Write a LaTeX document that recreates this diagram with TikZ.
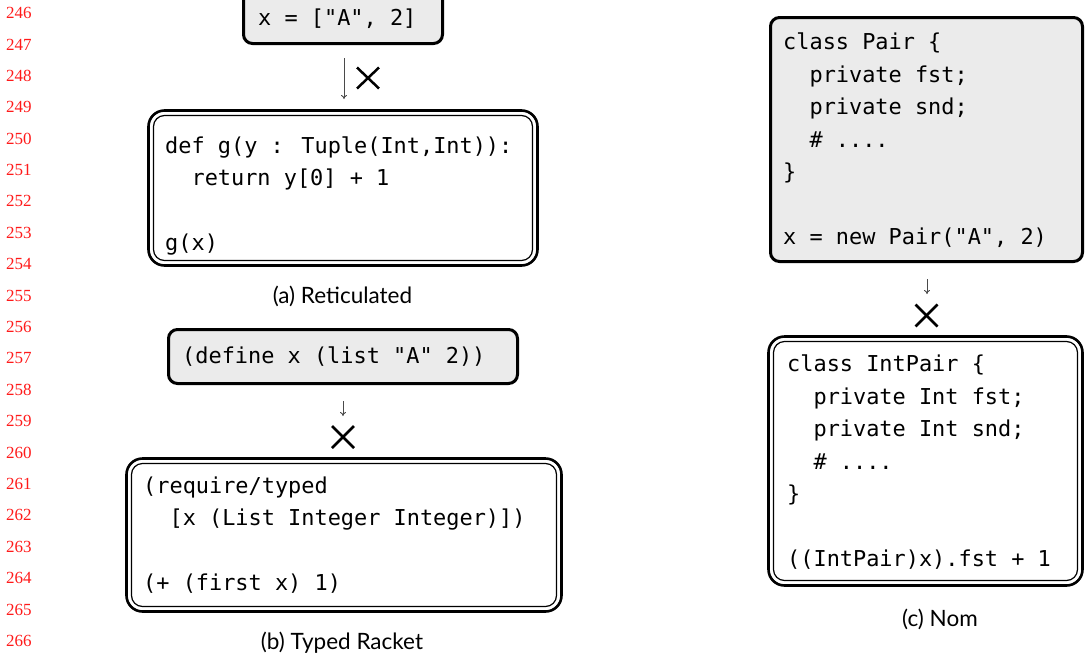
\documentclass[tikz,border=0pt]{standalone}
\usepackage{fontspec}
\setmainfont{Liberation Serif}
\newfontfamily\codefont{DejaVu Sans Mono}
\newfontfamily\captfont{Lato}
\usetikzlibrary{arrows.meta}
\definecolor{boxgray}{HTML}{EBEBEB}
\definecolor{arrgray}{HTML}{4A4A4A}
\definecolor{linered}{HTML}{FF1A1A}
\tikzset{
  graybox/.style={draw=black, line width=3pt, fill=boxgray, rounded corners=9pt, inner sep=0pt, outer sep=0pt},
  dblbox/.style={draw=black, line width=2.6pt, rounded corners=16pt, inner sep=0pt, outer sep=0pt},
  innerline/.style={draw=black, line width=1.2pt, rounded corners=11pt},
  code/.style={anchor=base west, inner sep=0pt, font=\codefont\fontsize{21.9}{32.5}\selectfont},
  capt/.style={inner sep=0pt, font=\captfont\fontsize{22.5}{26}\selectfont},
  lineno/.style={anchor=west, inner sep=0pt, text=linered, font=\fontsize{17}{19}\selectfont},
  arr/.style={draw=arrgray, line width=0.9pt, -{To[length=4pt,width=6pt]}},
  cross/.style={draw=black, line width=2.5pt},
}
\begin{document}
\begin{tikzpicture}[x=1pt,y=-1pt]
\useasboundingbox (0,0) rectangle (1085,662);

% line numbers
\foreach \n [count=\i from 0] in {246,...,266} {
  \node[lineno] (ln\n) at (6, 13+31.4*\i) {\n};
}

% ---------- (a) Reticulated ----------
\node[graybox, minimum width=199pt, minimum height=68.5pt] (a1) at (343, 9.25) {};
\node[code] (a1code) at (258, 25) {\vtop{\hbox{x = ["A", 2]}}};

\coordinate (afrom) at (344, 58);
\coordinate (ato) at (344, 99);
\draw[arr] (afrom) -- (ato);
\coordinate (ax) at (368, 78);
\draw[cross] ([shift={(-11,-10.5)}]ax) -- ([shift={(11,10.5)}]ax);
\draw[cross] ([shift={(-11,10.5)}]ax) -- ([shift={(11,-10.5)}]ax);

\node[dblbox, minimum width=389pt, minimum height=155pt] (a2) at (343, 188) {};
\draw[innerline] ([shift={(5,5)}]a2.north west) rectangle ([shift={(-5,-5)}]a2.south east);
\node[code] (a2code) at (165, 153) {\vtop{%
  \hbox{def g(y : Tuple(Int,Int)):}
  \hbox{\ \ return y[0] + 1}
  \hbox{}
  \hbox{g(x)}}};

\node[capt] (acap) at (342.5, 296) {(a) Reticulated};

% ---------- (b) Typed Racket ----------
\node[graybox, minimum width=349pt, minimum height=54pt] (b1) at (343, 356.5) {};
\node[code] (b1code) at (182, 363) {\vtop{\hbox{(define x (list "A" 2))}}};

\coordinate (bfrom) at (343, 401);
\coordinate (bto) at (343, 416);
\draw[arr] (bfrom) -- (bto);
\coordinate (bx) at (343, 437);
\draw[cross] ([shift={(-11,-11)}]bx) -- ([shift={(11,11)}]bx);
\draw[cross] ([shift={(-11,11)}]bx) -- ([shift={(11,-11)}]bx);

\node[dblbox, minimum width=435pt, minimum height=153pt] (b2) at (344, 535) {};
\draw[innerline] ([shift={(5,5)}]b2.north west) rectangle ([shift={(-5,-5)}]b2.south east);
\node[code] (b2code) at (143, 493) {\vtop{%
  \hbox{(require/typed}
  \hbox{\ \ [x (List Integer Integer)])}
  \hbox{}
  \hbox{(+ (first x) 1)}}};

\node[capt] (bcap) at (342, 643) {(b) Typed Racket};

% ---------- (c) Nom ----------
\node[graybox, minimum width=312pt, minimum height=244pt] (c1) at (926.5, 139.5) {};
\node[code] (c1code) at (783, 49.5) {\vtop{%
  \hbox{class Pair \{}
  \hbox{\ \ private fst;}
  \hbox{\ \ private snd;}
  \hbox{\ \ \# ....}
  \hbox{\}}
  \hbox{}
  \hbox{x = new Pair("A", 2)}}};

\coordinate (cfrom) at (927, 279);
\coordinate (cto) at (927, 294);
\draw[arr] (cfrom) -- (cto);
\coordinate (cx) at (926.5, 315.5);
\draw[cross] ([shift={(-11,-11)}]cx) -- ([shift={(11,11)}]cx);
\draw[cross] ([shift={(-11,11)}]cx) -- ([shift={(11,-11)}]cx);

\node[dblbox, minimum width=314pt, minimum height=249pt] (c2) at (925.5, 461) {};
\draw[innerline] ([shift={(5,5)}]c2.north west) rectangle ([shift={(-5,-5)}]c2.south east);
\node[code] (c2code) at (787, 371.5) {\vtop{%
  \hbox{class IntPair \{}
  \hbox{\ \ private Int fst;}
  \hbox{\ \ private Int snd;}
  \hbox{\ \ \# ....}
  \hbox{\}}
  \hbox{}
  \hbox{((IntPair)x).fst + 1}}};

\node[capt] (ccap) at (940, 619) {(c) Nom};
\end{tikzpicture}
\end{document}
